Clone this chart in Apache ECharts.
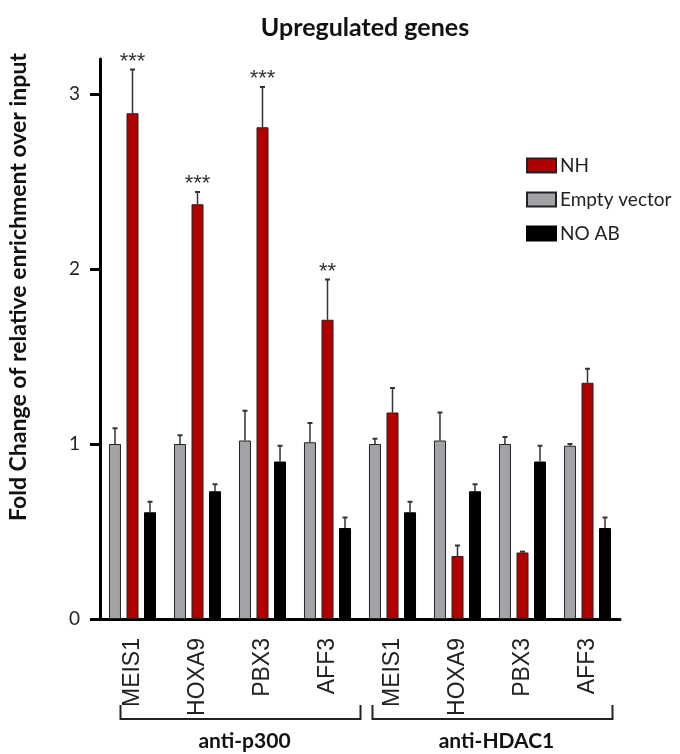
<!DOCTYPE html>
<html>
<head>
<meta charset="utf-8">
<script src="https://cdn.jsdelivr.net/npm/echarts@6/dist/echarts.min.js"></script>
<style>
html,body{margin:0;padding:0;background:#fff;}
#chart{width:680px;height:754px;}
</style>
</head>
<body>
<div id="chart"></div>
<script>
// ---- data ----
var genes = ['MEIS1', 'HOXA9', 'PBX3', 'AFF3'];
var groups = ['anti-p300', 'anti-HDAC1'];
var seriesNames = ['Empty vector', 'NH', 'NO AB'];
var emptyVector = [1.00, 1.00, 1.02, 1.01, 1.00, 1.02, 1.00, 0.99];
var emptyVectorErr = [0.09, 0.05, 0.17, 0.11, 0.03, 0.16, 0.04, 0.01];
var nh = [2.89, 2.37, 2.81, 1.71, 1.18, 0.36, 0.38, 1.35];
var nhErr = [0.25, 0.07, 0.23, 0.23, 0.14, 0.06, 0.005, 0.08];
var noAb = [0.61, 0.73, 0.90, 0.52, 0.61, 0.73, 0.90, 0.52];
var noAbErr = [0.06, 0.04, 0.09, 0.06, 0.06, 0.04, 0.09, 0.06];
var stars = ['***', '***', '***', '**', '', '', '', ''];
var yTicks = [0, 1, 2, 3];

// categories built from groups x genes (unique keys, gene shown as label)
var categories = [];
groups.forEach(function (g) { genes.forEach(function (n) { categories.push(g + '|' + n); }); });

var BAR_W = 12, BAR_GAP = 0.46;
var OFF = BAR_W * (1 + BAR_GAP);
var colors = { 'Empty vector': '#a3a3a7', 'NH': '#b00000', 'NO AB': '#000000' };

function errSeries(vals, errs, offset, starLabels) {
  var data = vals.map(function (v, i) { return [i, v, errs[i]]; });
  return {
    type: 'custom',
    silent: true,
    clip: false,
    z: 5,
    data: data,
    renderItem: function (params, api) {
      var i = api.value(0), v = api.value(1), e = api.value(2);
      var p0 = api.coord([i, v]);
      var p1 = api.coord([i, v + e]);
      var x = p0[0] + offset;
      var children = [
        { type: 'line', shape: { x1: x, y1: p0[1], x2: x, y2: p1[1] }, style: { stroke: '#333', lineWidth: 1.5 } },
        { type: 'line', shape: { x1: x - 2.5, y1: p1[1], x2: x + 2.5, y2: p1[1] }, style: { stroke: '#333', lineWidth: 2 } }
      ];
      if (starLabels && starLabels[i]) {
        children.push({ type: 'text', style: { text: starLabels[i], x: x, y: p1[1] - 8, align: 'center', verticalAlign: 'middle', fill: '#333', font: '22px "Liberation Sans"' } });
      }
      return { type: 'group', children: children };
    }
  };
}

var bracketData = groups.map(function (g, gi) { return [gi * genes.length, gi * genes.length + genes.length - 1, gi]; });
var bracketOffsets = [[-12, 33], [-20, 25]];

var option = {
  animation: false,
  title: {
    text: 'Upregulated genes',
    left: 360, top: 10, textAlign: 'center',
    textStyle: { fontFamily: 'Lato', fontWeight: 'bold', fontSize: 25, color: '#111' }
  },
  legend: {
    data: ['NH', 'Empty vector', 'NO AB'],
    orient: 'vertical',
    left: 521, top: 151,
    itemWidth: 29, itemHeight: 14, itemGap: 15,
    icon: 'rect',
    textStyle: { fontFamily: 'Lato', fontSize: 19, color: '#222', padding: [0, 0, 0, -1] }
  },
  grid: { left: 100, top: 59, width: 520, height: 560 },
  xAxis: {
    type: 'category',
    data: categories,
    axisLine: { lineStyle: { color: '#000', width: 3 } },
    axisTick: { alignWithLabel: true, length: 10, lineStyle: { color: '#000', width: 3 } },
    axisLabel: {
      rotate: 90, margin: 19, interval: 0,
      fontFamily: 'Liberation Sans', fontSize: 23, color: '#222',
      formatter: function (v) { return v.split('|')[1]; }
    }
  },
  yAxis: {
    type: 'value',
    min: 0, max: 3.2,
    splitLine: { show: false },
    axisLine: { show: true, lineStyle: { color: '#000', width: 3 } },
    axisTick: { show: true, length: 10, customValues: yTicks, lineStyle: { color: '#000', width: 3 } },
    axisLabel: { customValues: yTicks, margin: 20, fontFamily: 'Lato', fontSize: 19, color: '#222' }
  },
  graphic: [{
    type: 'text',
    x: 19, y: 287, rotation: Math.PI / 2,
    style: { text: 'Fold Change of relative enrichment over input', align: 'center', verticalAlign: 'middle', font: 'bold 23px Lato', fill: '#111' }
  }],
  series: [
    { name: 'Empty vector', type: 'bar', data: emptyVector, barWidth: BAR_W, barGap: (BAR_GAP * 100) + '%',
      itemStyle: { color: colors['Empty vector'], borderColor: '#222', borderWidth: 1 } },
    { name: 'NH', type: 'bar', data: nh, barWidth: BAR_W, barGap: (BAR_GAP * 100) + '%',
      itemStyle: { color: colors['NH'], borderColor: '#222', borderWidth: 1 } },
    { name: 'NO AB', type: 'bar', data: noAb, barWidth: BAR_W, barGap: (BAR_GAP * 100) + '%',
      itemStyle: { color: colors['NO AB'], borderColor: '#000', borderWidth: 1 } },
    errSeries(emptyVector, emptyVectorErr, -OFF, null),
    errSeries(nh, nhErr, 0, stars),
    errSeries(noAb, noAbErr, OFF, null),
    {
      type: 'custom', silent: true, clip: false,
      data: bracketData,
      renderItem: function (params, api) {
        var gi = api.value(2);
        var a = api.coord([api.value(0), 0]);
        var b = api.coord([api.value(1), 0]);
        var off = bracketOffsets[gi];
        var x1 = a[0] + off[0], x2 = b[0] + off[1];
        var y0 = a[1];
        return { type: 'group', children: [
          { type: 'polyline', shape: { points: [[x1, y0 + 86], [x1, y0 + 100], [x2, y0 + 100], [x2, y0 + 86]] },
            style: { stroke: '#222', lineWidth: 2, fill: null } },
          { type: 'text', style: { text: groups[gi], x: (x1 + x2) / 2 + 4, y: y0 + 122, align: 'center', verticalAlign: 'middle', font: 'bold 21px Lato', fill: '#111' } }
        ] };
      }
    }
  ]
};

var chart = echarts.init(document.getElementById('chart'), null, { renderer: 'canvas' });
chart.setOption(option);
</script>
</body>
</html>
